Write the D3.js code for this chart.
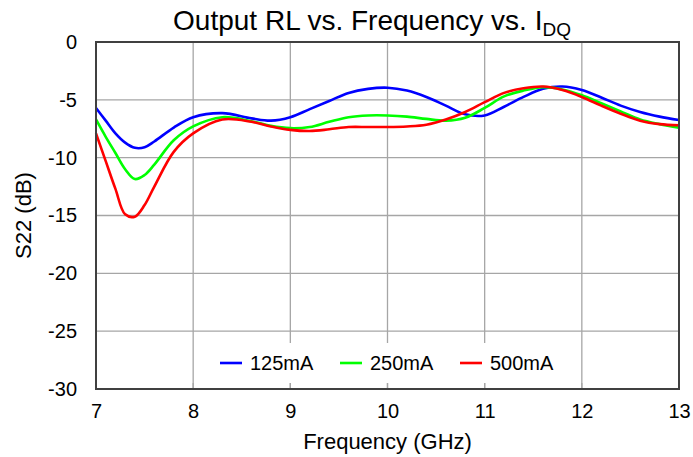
<!DOCTYPE html>
<html>
<head>
<meta charset="utf-8">
<script src="https://cdn.jsdelivr.net/npm/d3@7"></script>
<style>
  body { margin: 0; background: #fff; }
  text { font-family: "Liberation Sans", Arial, sans-serif; fill: #000; }
</style>
</head>
<body>
<div id="chart"></div>
<script>
// output RL chart

var freqs = [7.0, 7.1, 7.2, 7.3, 7.4, 7.5, 7.6, 7.8, 8.0, 8.3, 8.6, 8.8, 9.0, 9.2, 9.4, 9.6, 9.8, 10.0,
             10.2, 10.4, 10.6, 10.8, 11.0, 11.2, 11.4, 11.6, 11.8, 12.0, 12.2, 12.4, 12.6, 12.8, 13.0];

var s125 = [-5.7, -6.8, -7.9, -8.7, -9.15, -9.1, -8.6, -7.4, -6.5, -6.15, -6.6, -6.8, -6.5, -5.8, -5.1, -4.4, -4.05, -3.95,
            -4.2, -4.75, -5.5, -6.25, -6.35, -5.6, -4.75, -4.05, -3.85, -4.15, -4.8, -5.5, -6.05, -6.45, -6.75];
var s250 = [-6.7, -8.2, -9.6, -11.0, -11.85, -11.5, -10.6, -8.5, -7.3, -6.5, -6.85, -7.25, -7.45, -7.35, -6.9, -6.5, -6.35, -6.35,
            -6.45, -6.65, -6.8, -6.55, -5.7, -4.7, -4.2, -3.9, -4.1, -4.6, -5.3, -6.0, -6.7, -7.1, -7.4];
var s500 = [-7.9, -10.3, -12.7, -14.9, -15.1, -14.1, -12.5, -9.5, -7.9, -6.7, -6.9, -7.3, -7.6, -7.7, -7.55, -7.35, -7.35, -7.35,
            -7.3, -7.15, -6.7, -6.05, -5.2, -4.4, -4.0, -3.85, -4.15, -4.75, -5.5, -6.2, -6.8, -7.1, -7.2];

var seriesNames = ['125mA', '250mA', '500mA'];
var seriesColors = ['#0000ff', '#00ff00', '#ff0000'];
var xTicks = [7, 8, 9, 10, 11, 12, 13];
var yTicks = [0, -5, -10, -15, -20, -25, -30];

var svgWidth = 693;
var svgHeight = 457;
var pLeft = 96, pRight = 679, pTop = 42, pBottom = 389;

var svg = d3.select("#chart").append("svg")
    .attr("width", svgWidth)
    .attr("height", svgHeight);

var xScale = d3.scaleLinear().domain([7, 13]).range([pLeft, pRight]);
var yScale = d3.scaleLinear().domain([0, -30]).range([pTop, pBottom]);

// grid
svg.append("g").selectAll("line")
    .data(xTicks.slice(1, -1))
    .enter().append("line")
    .attr("x1", function(d){ return xScale(d); })
    .attr("x2", function(d){ return xScale(d); })
    .attr("y1", pTop).attr("y2", pBottom)
    .attr("stroke", "#a6a6a6").attr("stroke-width", 1.3);

svg.append("g").selectAll("line")
    .data(yTicks.slice(1, -1))
    .enter().append("line")
    .attr("y1", function(d){ return yScale(d); })
    .attr("y2", function(d){ return yScale(d); })
    .attr("x1", pLeft).attr("x2", pRight)
    .attr("stroke", "#a6a6a6").attr("stroke-width", 1.3);

// series lines
var data = [s125, s250, s500];
var line = d3.line()
    .x(function(d, i){ return xScale(freqs[i]); })
    .y(function(d){ return yScale(d); })
    .curve(d3.curveCatmullRom.alpha(0.5));

var plot = svg.append("g");
for (var i = 0; i < data.length; i++) {
    plot.append("path")
        .attr("d", line(data[i]))
        .attr("fill", "none")
        .attr("stroke", seriesColors[i])
        .attr("stroke-width", 2.6);
}

// legend box covers the grid
var legend = svg.append("g");
legend.append("rect")
    .attr("x", 205).attr("y", 343).attr("width", 365).attr("height", 40)
    .attr("fill", "#fff");

// inside tick marks on x axis
svg.append("g").selectAll("line")
    .data(xTicks.slice(1, -1))
    .enter().append("line")
    .attr("x1", function(d){ return xScale(d); })
    .attr("x2", function(d){ return xScale(d); })
    .attr("y1", pBottom - 6).attr("y2", pBottom)
    .attr("stroke", "#a6a6a6").attr("stroke-width", 1.3);

var legendX = [220, 340, 460];
for (var i = 0; i < seriesNames.length; i++) {
    legend.append("line")
        .attr("x1", legendX[i]).attr("x2", legendX[i] + 22)
        .attr("y1", 363).attr("y2", 363)
        .attr("stroke", seriesColors[i]).attr("stroke-width", 2.6);
    legend.append("text")
        .attr("x", legendX[i] + 30).attr("y", 370)
        .attr("font-size", 20)
        .text(seriesNames[i]);
}

// frame
svg.append("rect")
    .attr("x", pLeft).attr("y", pTop)
    .attr("width", pRight - pLeft).attr("height", pBottom - pTop)
    .attr("fill", "none").attr("stroke", "#404040").attr("stroke-width", 2);

// axes labels
var fmt = function(d){ return String(d); };

var xAxis = d3.axisBottom(xScale).tickValues(xTicks).tickFormat(fmt).tickSize(0).tickPadding(0);
var gx = svg.append("g").attr("transform", "translate(0," + pBottom + ")").call(xAxis);
gx.select(".domain").remove();
gx.selectAll("text").attr("font-size", 20).attr("dy", "1.45em").attr("y", 0)
    .style("font-family", "Liberation Sans, Arial, sans-serif").attr("fill", "#000");

var yAxis = d3.axisLeft(yScale).tickValues(yTicks).tickFormat(fmt).tickSize(0).tickPadding(19);
var gy = svg.append("g").attr("transform", "translate(" + pLeft + ",0)").call(yAxis);
gy.select(".domain").remove();
gy.selectAll("text").attr("font-size", 20)
    .style("font-family", "Liberation Sans, Arial, sans-serif").attr("fill", "#000");

// titles
var title = svg.append("text")
    .attr("x", 372).attr("y", 30)
    .attr("text-anchor", "middle")
    .attr("font-size", 28);
title.append("tspan").text("Output RL vs. Frequency vs. I");
title.append("tspan").attr("font-size", 19).attr("dy", 6).text("DQ");

svg.append("text")
    .attr("x", (pLeft + pRight) / 2).attr("y", 449)
    .attr("text-anchor", "middle")
    .attr("font-size", 22)
    .text("Frequency (GHz)");

svg.append("text")
    .attr("transform", "translate(31," + ((pTop + pBottom) / 2) + ") rotate(-90)")
    .attr("text-anchor", "middle")
    .attr("font-size", 22)
    .text("S22 (dB)");
</script>
</body>
</html>
